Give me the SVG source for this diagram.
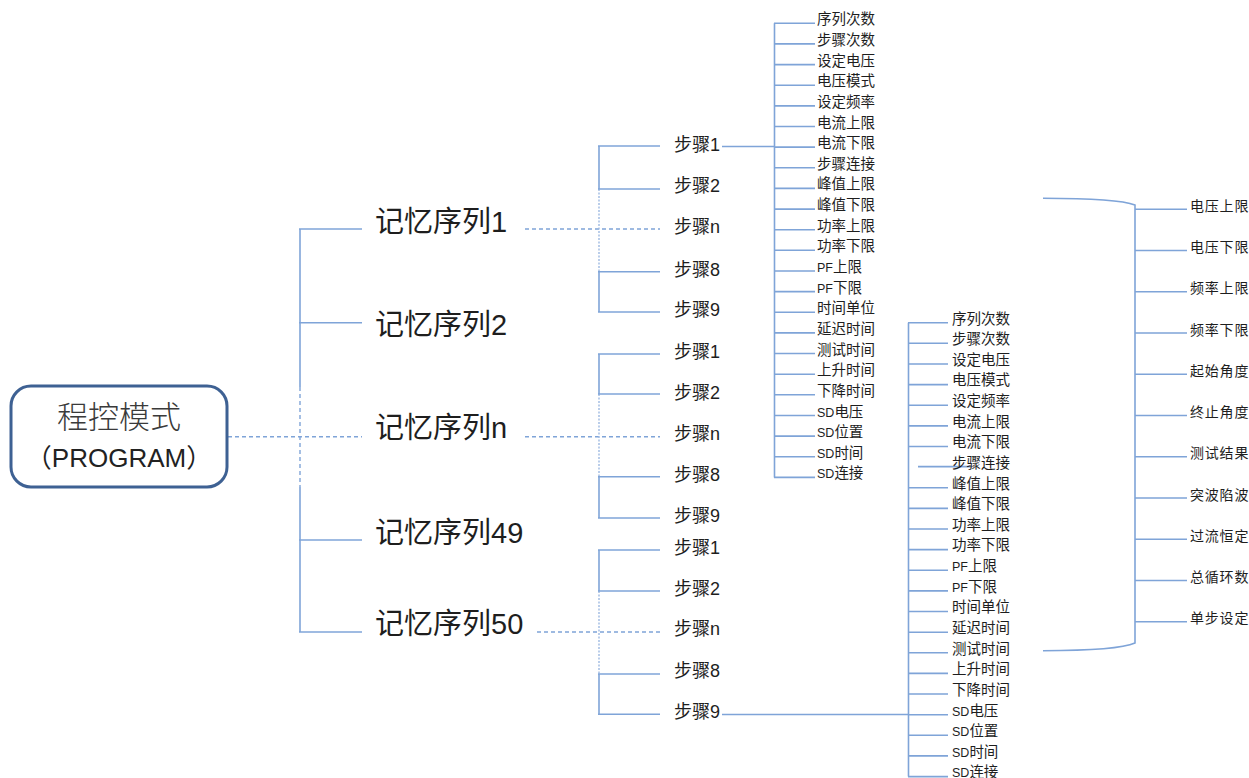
<svg xmlns="http://www.w3.org/2000/svg" width="1249" height="778" viewBox="0 0 1249 778">
<style>
.ln{stroke:#7fa4d8;stroke-width:1.6;fill:none}
.ds{stroke:#7fa4d8;stroke-width:1.4;fill:none;stroke-dasharray:4 3}
.dt{stroke:#9db9e2;stroke-width:1.4;fill:none;stroke-dasharray:2 1.5}
text{font-family:'Liberation Sans','Noto Sans CJK SC',sans-serif;fill:#1e1e1e}
.seq{font-size:29px}
.stp{font-size:18px}
.it{font-size:14.5px}
.sm{font-size:12.5px}
.rt{font-size:14px;letter-spacing:0.8px}
</style>
<g id="connectors">
<line class="ds" x1="228" y1="436.7" x2="362" y2="436.7"/>
<line class="ln" x1="300" y1="229" x2="300" y2="387"/>
<line class="ds" x1="300" y1="387" x2="300" y2="487"/>
<line class="ln" x1="300" y1="487" x2="300" y2="632"/>
<line class="ln" x1="299" y1="229" x2="362" y2="229"/>
<line class="ln" x1="299" y1="322.7" x2="362" y2="322.7"/>
<line class="ln" x1="299" y1="540" x2="362" y2="540"/>
<line class="ln" x1="299" y1="632" x2="362" y2="632"/>
<line class="ds" x1="525" y1="229" x2="660" y2="229"/>
<line class="ln" x1="599" y1="146" x2="599" y2="189"/>
<line class="dt" x1="599" y1="189" x2="599" y2="271.7"/>
<line class="ln" x1="599" y1="271.7" x2="599" y2="312"/>
<line class="ln" x1="598" y1="146" x2="660" y2="146"/>
<line class="ln" x1="598" y1="189" x2="660" y2="189"/>
<line class="ln" x1="598" y1="271.7" x2="660" y2="271.7"/>
<line class="ln" x1="598" y1="312" x2="660" y2="312"/>
<line class="ds" x1="525" y1="436.7" x2="660" y2="436.7"/>
<line class="ln" x1="599" y1="354" x2="599" y2="394"/>
<line class="dt" x1="599" y1="394" x2="599" y2="476.7"/>
<line class="ln" x1="599" y1="476.7" x2="599" y2="518"/>
<line class="ln" x1="598" y1="354" x2="660" y2="354"/>
<line class="ln" x1="598" y1="394" x2="660" y2="394"/>
<line class="ln" x1="598" y1="476.7" x2="660" y2="476.7"/>
<line class="ln" x1="598" y1="518" x2="660" y2="518"/>
<line class="ds" x1="537" y1="632" x2="660" y2="632"/>
<line class="ln" x1="599" y1="550" x2="599" y2="591"/>
<line class="dt" x1="599" y1="591" x2="599" y2="674"/>
<line class="ln" x1="599" y1="674" x2="599" y2="714.3"/>
<line class="ln" x1="598" y1="550" x2="660" y2="550"/>
<line class="ln" x1="598" y1="591" x2="660" y2="591"/>
<line class="ln" x1="598" y1="674" x2="660" y2="674"/>
<line class="ln" x1="598" y1="714.3" x2="660" y2="714.3"/>
<line class="ln" x1="722" y1="146.5" x2="775" y2="146.5"/>
<line class="ln" x1="722" y1="714.5" x2="908" y2="714.5"/>
<line class="ln" x1="774.5" y1="23.3" x2="774.5" y2="477.4"/>
<path class="ln" d="M774 23.3H815M774 43.9H815M774 64.6H815M774 85.2H815M774 105.9H815M774 126.5H815M774 147.1H815M774 167.8H815M774 188.4H815M774 209.1H815M774 229.7H815M774 250.3H815M774 271H815M774 291.6H815M774 312.3H815M774 332.9H815M774 353.5H815M774 374.2H815M774 394.8H815M774 415.5H815M774 436.1H815M774 456.7H815M774 477.4H815"/>
<line class="ln" x1="908.5" y1="322.7" x2="908.5" y2="776.6"/>
<path class="ln" d="M908 322.7H948M908 343.3H948M908 364H948M908 384.6H948M908 405.2H948M908 425.9H948M908 446.5H948M918 466.6H972M908 487.7H948M908 508.4H948M908 529H948M908 549.6H948M908 570.3H948M908 590.9H948M908 611.5H948M908 632.2H948M908 652.8H948M908 673.4H948M908 694H948M908 714.7H948M908 735.3H948M908 755.9H948M908 776.6H948"/>
<path class="ln" d="M1043 198.3Q1118 198.5 1135 205V643Q1118 650.5 1043 650.7"/>
<path class="ln" d="M1135 209.3H1187M1135 250.5H1187M1135 291.8H1187M1135 333H1187M1135 374.3H1187M1135 415.5H1187M1135 456.7H1187M1135 498H1187M1135 539.2H1187M1135 580.5H1187M1135 621.7H1187"/>
</g>
<g id="root">
<rect x="11" y="386" width="216" height="101" rx="20" ry="20" fill="#fff" stroke="#3e6193" stroke-width="3"/>
<text x="119" y="428" text-anchor="middle" style="font-size:31px;fill:#3a3a3a;font-weight:300">程控模式</text>
<text x="119" y="467" text-anchor="middle" style="font-size:26px;fill:#222">（PROGRAM）</text>
</g>
<g id="seq1"><text class="seq" x="375" y="232">记忆序列1</text></g>
<g id="seq2"><text class="seq" x="375" y="335">记忆序列2</text></g>
<g id="seqn"><text class="seq" x="375" y="438">记忆序列n</text></g>
<g id="seq49"><text class="seq" x="375" y="543">记忆序列49</text></g>
<g id="seq50"><text class="seq" x="375" y="634">记忆序列50</text></g>
<g id="steps1">
<text class="stp" x="674" y="151">步骤1</text>
<text class="stp" x="674" y="192">步骤2</text>
<text class="stp" x="674" y="233">步骤n</text>
<text class="stp" x="674" y="275.5">步骤8</text>
<text class="stp" x="674" y="316">步骤9</text>
</g>
<g id="stepsn">
<text class="stp" x="674" y="357.5">步骤1</text>
<text class="stp" x="674" y="398.5">步骤2</text>
<text class="stp" x="674" y="440">步骤n</text>
<text class="stp" x="674" y="481">步骤8</text>
<text class="stp" x="674" y="522">步骤9</text>
</g>
<g id="steps50">
<text class="stp" x="674" y="553.5">步骤1</text>
<text class="stp" x="674" y="594.5">步骤2</text>
<text class="stp" x="674" y="635">步骤n</text>
<text class="stp" x="674" y="677">步骤8</text>
<text class="stp" x="674" y="717.5">步骤9</text>
</g>
<g id="list1">
<text class="it" x="817" y="24.3">序列次数</text>
<text class="it" x="817" y="44.9">步骤次数</text>
<text class="it" x="817" y="65.6">设定电压</text>
<text class="it" x="817" y="86.2">电压模式</text>
<text class="it" x="817" y="106.9">设定频率</text>
<text class="it" x="817" y="127.5">电流上限</text>
<text class="it" x="817" y="148.1">电流下限</text>
<text class="it" x="817" y="168.8">步骤连接</text>
<text class="it" x="817" y="189.4">峰值上限</text>
<text class="it" x="817" y="210.1">峰值下限</text>
<text class="it" x="817" y="230.7">功率上限</text>
<text class="it" x="817" y="251.3">功率下限</text>
<text class="it" x="817" y="272"><tspan class="sm">PF</tspan>上限</text>
<text class="it" x="817" y="292.6"><tspan class="sm">PF</tspan>下限</text>
<text class="it" x="817" y="313.3">时间单位</text>
<text class="it" x="817" y="333.9">延迟时间</text>
<text class="it" x="817" y="354.5">测试时间</text>
<text class="it" x="817" y="375.2">上升时间</text>
<text class="it" x="817" y="395.8">下降时间</text>
<text class="it" x="817" y="416.5"><tspan class="sm">SD</tspan>电压</text>
<text class="it" x="817" y="437.1"><tspan class="sm">SD</tspan>位置</text>
<text class="it" x="817" y="457.7"><tspan class="sm">SD</tspan>时间</text>
<text class="it" x="817" y="478.4"><tspan class="sm">SD</tspan>连接</text>
</g>
<g id="list2">
<text class="it" x="952" y="323.5">序列次数</text>
<text class="it" x="952" y="344.1">步骤次数</text>
<text class="it" x="952" y="364.8">设定电压</text>
<text class="it" x="952" y="385.4">电压模式</text>
<text class="it" x="952" y="406">设定频率</text>
<text class="it" x="952" y="426.7">电流上限</text>
<text class="it" x="952" y="447.3">电流下限</text>
<text class="it" x="952" y="467.9">步骤连接</text>
<text class="it" x="952" y="488.5">峰值上限</text>
<text class="it" x="952" y="509.2">峰值下限</text>
<text class="it" x="952" y="529.8">功率上限</text>
<text class="it" x="952" y="550.4">功率下限</text>
<text class="it" x="952" y="571.1"><tspan class="sm">PF</tspan>上限</text>
<text class="it" x="952" y="591.7"><tspan class="sm">PF</tspan>下限</text>
<text class="it" x="952" y="612.3">时间单位</text>
<text class="it" x="952" y="633">延迟时间</text>
<text class="it" x="952" y="653.6">测试时间</text>
<text class="it" x="952" y="674.2">上升时间</text>
<text class="it" x="952" y="694.8">下降时间</text>
<text class="it" x="952" y="715.5"><tspan class="sm">SD</tspan>电压</text>
<text class="it" x="952" y="736.1"><tspan class="sm">SD</tspan>位置</text>
<text class="it" x="952" y="756.7"><tspan class="sm">SD</tspan>时间</text>
<text class="it" x="952" y="777.4"><tspan class="sm">SD</tspan>连接</text>
</g>
<g id="list3">
<text class="rt" x="1190" y="210.8">电压上限</text>
<text class="rt" x="1190" y="252">电压下限</text>
<text class="rt" x="1190" y="293.3">频率上限</text>
<text class="rt" x="1190" y="334.5">频率下限</text>
<text class="rt" x="1190" y="375.8">起始角度</text>
<text class="rt" x="1190" y="417">终止角度</text>
<text class="rt" x="1190" y="458.2">测试结果</text>
<text class="rt" x="1190" y="499.5">突波陷波</text>
<text class="rt" x="1190" y="540.7">过流恒定</text>
<text class="rt" x="1190" y="582">总循环数</text>
<text class="rt" x="1190" y="623.2">单步设定</text>
</g>
</svg>
